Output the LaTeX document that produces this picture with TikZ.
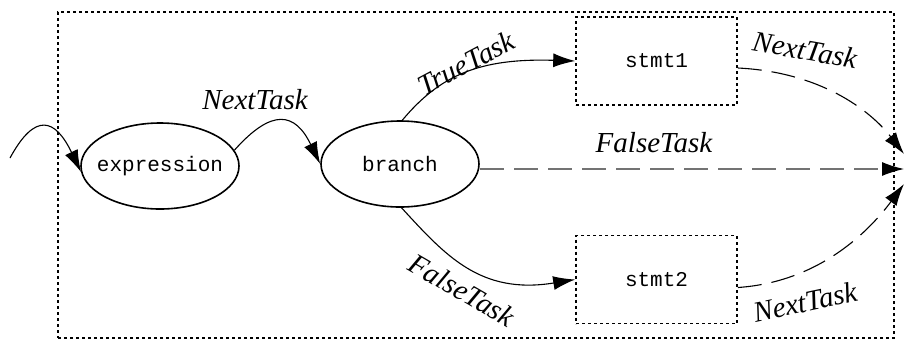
\documentclass[tikz,border=0pt]{standalone}
\usepackage{fontspec}
\setmainfont{Liberation Serif}
\setmonofont{Liberation Mono}
\usetikzlibrary{shapes.geometric,arrows.meta}
\begin{document}
\begin{tikzpicture}[x=1pt,y=-1pt,
  lbl/.style={font=\fontsize{29}{32}\selectfont\itshape, inner sep=0pt},
  ell/.style={ellipse, draw, line width=1.6pt, minimum width=158pt, minimum height=86pt, inner xsep=-40pt, inner ysep=0pt, font=\fontsize{21}{24}\selectfont\ttfamily},
  sbox/.style={rectangle, draw, dash pattern=on 3pt off 3pt, line width=1.6pt, minimum width=161pt, minimum height=88pt, inner sep=0pt, font=\fontsize{21}{24}\selectfont\ttfamily},
  tip/.style={-{Latex[length=22pt,width=14pt,color=black]}},
  solid arrow/.style={tip, line width=1.1pt},
  dash arrow/.style={tip, line width=1.1pt, dash pattern=on 24pt off 10pt}
]
\useasboundingbox (0,0) rectangle (904,341);
\node[draw, dash pattern=on 3pt off 3pt, line width=1.6pt, minimum width=836pt, minimum height=326pt, inner sep=0pt] (frame) at (476,175) {};
\node[ell] (expr) at (160,166) {expression};
\node[ell] (br) at (400,164) {branch};
\node[sbox] (s1) at (656.5,61) {stmt1};
\node[sbox] (s2) at (656.5,279.5) {stmt2};
\coordinate (in) at (10,158);
\coordinate (t1) at (904,154);
\coordinate (t2) at (904,169);
\coordinate (t3) at (904,184);
\coordinate (bre) at (480,169);
% entry
\draw[solid arrow] (in) .. controls (35,112) and (55,118) .. (81,172);
\draw[solid arrow] (expr.12) .. controls (272,108) and (295,112) .. (br.west);
% true / false
\draw[solid arrow] (br.87) .. controls (440,75) and (480,58) .. (s1.west);
\draw[solid arrow] (br.-88) .. controls (445,255) and (480,295) .. (s2.west);
\draw[dash arrow, draw=black!55] (bre) -- (t2);
\draw[dash arrow] (s1.east) ++(0,7) .. controls (820,72) and (870,110) .. (t1);
\draw[dash arrow] (s2.east) ++(0,8) .. controls (820,282) and (870,230) .. (t3);
% labels
\node[lbl] (l1) at (255,100) {NextTask};
\node[lbl, rotate=28] (l2) at (466,63) {TrueTask};
\node[lbl] (l3) at (654,143) {FalseTask};
\node[lbl, rotate=-30] (l4) at (462,290) {FalseTask};
\node[lbl, rotate=-10] (l5) at (805,50) {NextTask};
\node[lbl, rotate=12] (l6) at (805,302) {NextTask};
\end{tikzpicture}
\end{document}
